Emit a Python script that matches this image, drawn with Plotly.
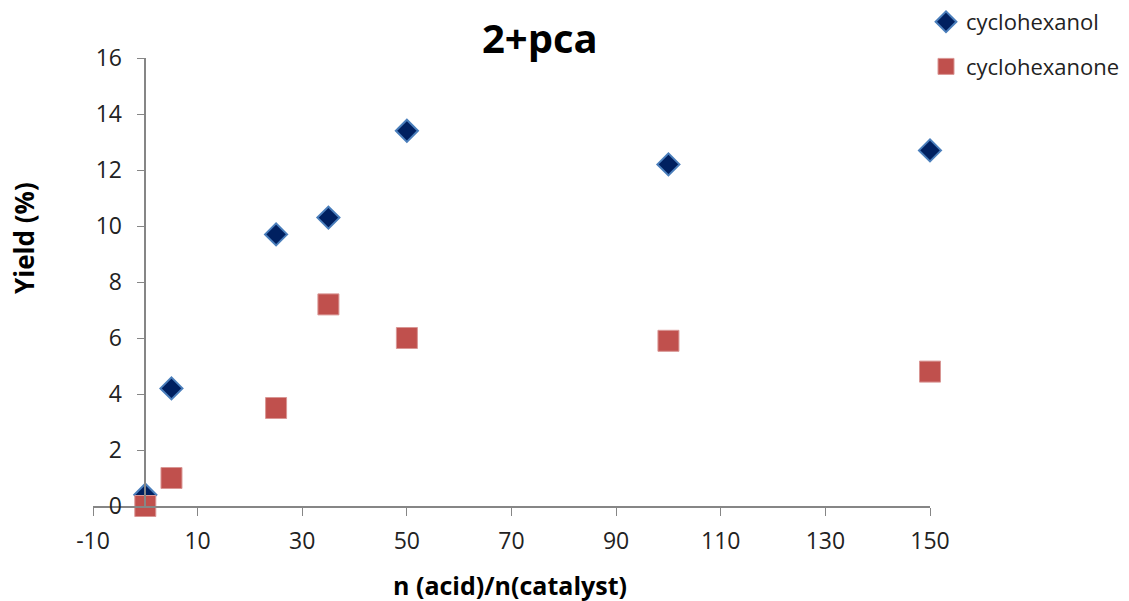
import plotly.graph_objects as go

x_vals = [0, 5, 25, 35, 50, 100, 150]
cyclohexanol = [0.4, 4.2, 9.7, 10.3, 13.4, 12.2, 12.7]
cyclohexanone = [0.0, 1.0, 3.5, 7.2, 6.0, 5.9, 4.8]
x_ticks = [-10, 10, 30, 50, 70, 90, 110, 130, 150]
x_tick_labels = ["-10", "10", "30", "50", "70", "90", "110", "130", "150"]
y_ticks = [0, 2, 4, 6, 8, 10, 12, 14, 16]

FONT = "Open Sans"

fig = go.Figure()
fig.add_trace(go.Scatter(
    x=x_vals, y=cyclohexanol, mode="markers", name="cyclohexanol",
    legendgroup="a", cliponaxis=False,
    marker=dict(symbol="diamond", size=17, color="#002060",
                line=dict(color="#4a7ebb", width=2)),
))
fig.add_trace(go.Scatter(
    x=x_vals, y=cyclohexanone, mode="markers", name="cyclohexanone",
    legendgroup="b", cliponaxis=False,
    marker=dict(symbol="square", size=21, color="#C0504D",
                line=dict(color="#d99694", width=1)),
))

L, R, T, B = 93, 199, 58, 95
W, H = 1129, 601
pw = W - L - R
ph = H - T - B

def px_x(p):
    return (p - L) / pw

def px_y(p):
    return (H - B - p) / ph

fig.update_layout(
    width=W, height=H,
    margin=dict(l=L, r=R, t=T, b=B, pad=0, autoexpand=False),
    plot_bgcolor="white", paper_bgcolor="white",
    font=dict(family=FONT, color="#222222"),
    showlegend=True,
    legend=dict(x=px_x(926), y=px_y(1), xanchor="left", yanchor="top",
                font=dict(size=22, family=FONT, color="#222222"),
                tracegroupgap=13, itemwidth=30, bgcolor="rgba(0,0,0,0)"),
    xaxis=dict(range=[-10, 150], tickvals=x_ticks, ticktext=x_tick_labels,
               showgrid=False, zeroline=False,
               showline=True, linecolor="#868686", linewidth=1.5,
               ticks="outside", ticklen=8, tickcolor="#868686",
               ticklabelstandoff=6,
               tickfont=dict(size=23, family=FONT, color="#222222"),
               domain=[0, 1]),
    yaxis=dict(range=[0, 16], tickvals=y_ticks, showgrid=False, zeroline=False,
               showline=True, linecolor="#868686", linewidth=1.5,
               ticks="outside", ticklen=8, tickcolor="#868686",
               ticklabelstandoff=10,
               tickfont=dict(size=23, family=FONT, color="#222222"),
               anchor="free", position=10 / 160),
)

fig.add_annotation(text="<b>2+pca</b>", xref="paper", yref="paper",
                   x=px_x(540), y=px_y(37), xanchor="center", yanchor="middle",
                   showarrow=False,
                   font=dict(size=40, family=FONT, color="#000000"))
fig.add_annotation(text="<b>Yield (%)</b>", xref="paper", yref="paper",
                   x=px_x(24), y=px_y(238), xanchor="center", yanchor="middle",
                   showarrow=False, textangle=-90,
                   font=dict(size=26, family=FONT, color="#000000"))
fig.add_annotation(text="<b>n (acid)/n(catalyst)</b>", xref="paper", yref="paper",
                   x=px_x(510), y=px_y(585), xanchor="center", yanchor="middle",
                   showarrow=False,
                   font=dict(size=25, family=FONT, color="#000000"))

fig.write_html("out.html")
